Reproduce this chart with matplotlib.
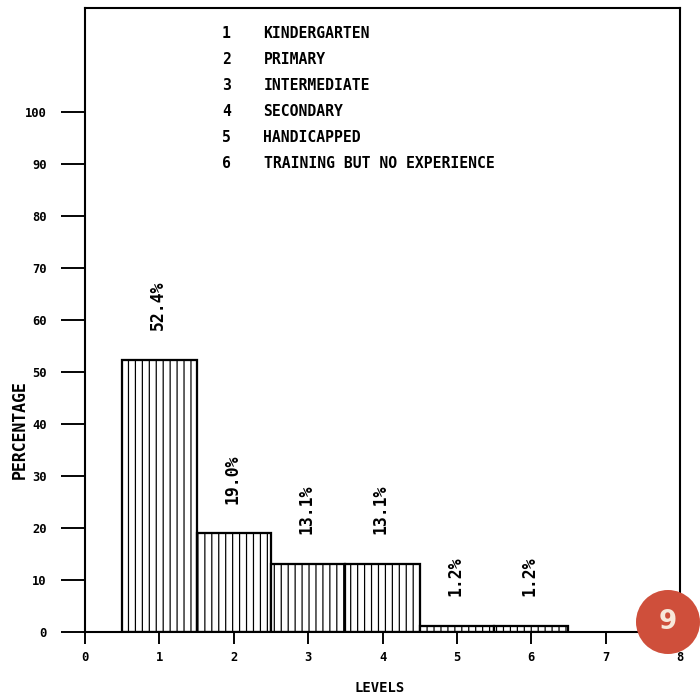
import matplotlib
matplotlib.use('Agg')
import matplotlib.pyplot as plt
from matplotlib.patches import Ellipse

# data
levels = [1, 2, 3, 4, 5, 6]
percent = [52.4, 19.0, 13.1, 13.1, 1.2, 1.2]
level_names = ['KINDERGARTEN', 'PRIMARY', 'INTERMEDIATE', 'SECONDARY',
               'HANDICAPPED', 'TRAINING BUT NO EXPERIENCE']
xticks = list(range(0, 9))
yticks = list(range(0, 101, 10))

plt.rcParams['font.family'] = ['DejaVu Sans Mono']
plt.rcParams['font.weight'] = 'bold'
plt.rcParams['hatch.linewidth'] = 0.7

W, H = 700, 699
fig = plt.figure(figsize=(5.6, 5.592), dpi=125)
fig.patch.set_facecolor('white')
ax = fig.add_axes([85 / W, 67 / H, 595 / W, 624 / H])
ax.set_xlim(0, 8)
ax.set_ylim(0, 120)

ax.bar(levels, percent, width=1, facecolor='white', edgecolor='black',
       hatch='|||', linewidth=1.3)

for x, v in zip(levels, percent):
    ax.annotate(f'{v:.1f}%', (x, v), xytext=(-1, 17), textcoords='offset points',
                rotation=90, ha='center', va='bottom', fontsize=9.5)

for i, name in enumerate(level_names):
    y = 115 - 5 * i
    ax.text(1.9, y, str(levels[i]), ha='center', va='center', fontsize=8.5)
    ax.text(2.4, y, name, ha='left', va='center', fontsize=8.5)

ax.set_xticks(xticks)
ax.set_yticks(yticks)
ax.tick_params(axis='y', direction='out', length=14, width=1.1, pad=8, labelsize=7)
ax.tick_params(axis='x', direction='out', length=7, width=1.1, pad=4, labelsize=7)
for s in ax.spines.values():
    s.set_linewidth(1.2)

fig.text(20 / W, 1 - 430 / H, 'PERCENTAGE', rotation=90, ha='center', va='center', fontsize=9.5)
fig.text(380 / W, 1 - 688 / H, 'LEVELS', ha='center', va='center', fontsize=8)

# page number badge in the scan
badge = Ellipse((668 / W, 1 - 622 / H), 64 / W, 64 / H, transform=fig.transFigure,
                facecolor='#cf4f3b', edgecolor='none', zorder=10)
fig.add_artist(badge)
fig.text(668 / W, 1 - 622 / H, '9', ha='center', va='center', color='#f7e8da',
         fontsize=15, family='DejaVu Sans', zorder=11)

fig.savefig('out.png', dpi=125)
